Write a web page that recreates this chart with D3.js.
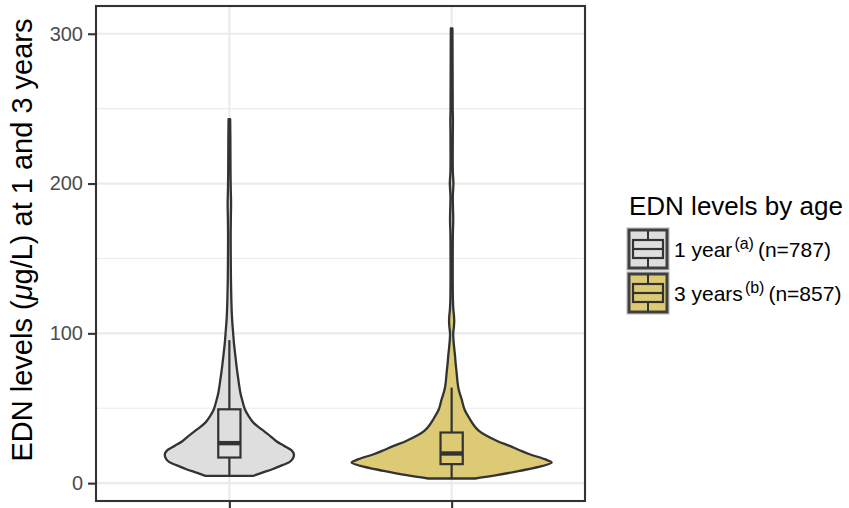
<!DOCTYPE html>
<html>
<head>
<meta charset="utf-8">
<script src="https://cdn.jsdelivr.net/npm/d3@7"></script>
<style>
  body { margin: 0; background: #ffffff; }
  text { font-family: "Liberation Sans", Arial, Helvetica, sans-serif; }
</style>
</head>
<body>
<svg id="chart" width="849" height="508"></svg>
<script>
// Groups (age at measurement)
const ages = ["1 year", "3 years"];
const ageSup = ["(a)", "(b)"];
const ageN = ["(n=787)", "(n=857)"];
const fills = ["#DEDEDE", "#DCCB74"];

// Violin outline: EDN value and relative density (1 = widest violin)
const violinValues1 = [4.9, 7, 9.3, 12, 14, 16.5, 19.3, 22, 25, 28, 32.7, 36, 40.4, 45, 49.3, 55, 60.4, 70, 78, 86, 94, 100, 111, 122, 135, 150, 165, 178, 187, 196, 205, 215, 230, 243];
const violinDensity1 = [0.24, 0.33, 0.43, 0.53, 0.60, 0.635, 0.645, 0.62, 0.545, 0.47, 0.385, 0.32, 0.24, 0.19, 0.155, 0.13, 0.11, 0.088, 0.072, 0.058, 0.045, 0.038, 0.026, 0.02, 0.016, 0.014, 0.013, 0.015, 0.017, 0.014, 0.012, 0.011, 0.01, 0.008];

const violinValues2 = [3.1, 5.3, 8.2, 11.5, 13.8, 16, 19.3, 22, 24.9, 28, 31.6, 35, 39.3, 43, 49, 56, 62.7, 68, 73.8, 80, 85, 90, 96, 100, 104, 108, 112, 116, 122, 135, 150, 165, 176, 185, 192, 200, 208, 220, 235, 242, 250, 270, 290, 303.5];
const violinDensity2 = [0.234, 0.45, 0.68, 0.91, 1.0, 0.93, 0.78, 0.68, 0.58, 0.46, 0.35, 0.27, 0.215, 0.18, 0.13, 0.10, 0.07, 0.058, 0.05, 0.04, 0.034, 0.026, 0.018, 0.016, 0.022, 0.026, 0.023, 0.017, 0.013, 0.011, 0.011, 0.012, 0.016, 0.013, 0.012, 0.018, 0.012, 0.011, 0.012, 0.013, 0.011, 0.01, 0.009, 0.008];

// Box plot statistics
const boxLowerWhisker = [4.9, 3.1];
const boxQ1 = [17.1, 12.7];
const boxMedian = [26.7, 19.8];
const boxQ3 = [49.3, 33.8];
const boxUpperWhisker = [95.5, 63.8];

// Axis ticks
const yMajorTicks = [0, 100, 200, 300];
const yMinorTicks = [50, 150, 250];

const violins = [
  { values: violinValues1, density: violinDensity1 },
  { values: violinValues2, density: violinDensity2 }
];

const svg = d3.select("#chart");
const panel = { left: 96, right: 585, top: 6, bottom: 501 };

const dataMin = d3.min(violins, v => d3.min(v.values));
const dataMax = d3.max(violins, v => d3.max(v.values));
const pad = (dataMax - dataMin) * 0.05;

const y = d3.scaleLinear()
  .domain([dataMin - pad, dataMax + pad])
  .range([panel.bottom, panel.top]);

const x = d3.scalePoint()
  .domain(ages)
  .range([panel.left, panel.right])
  .padding(0.6);

const step = x.step();
const halfMax = 0.45 * step;   // widest violin spans 0.9 of a slot
const boxHalf = 0.05 * step;   // box width 0.1 of a slot

const ink = "#333333";

// panel background + grid
svg.append("rect")
  .attr("x", panel.left).attr("y", panel.top)
  .attr("width", panel.right - panel.left).attr("height", panel.bottom - panel.top)
  .attr("fill", "#ffffff");

const grid = svg.append("g");
grid.selectAll("line.minor").data(yMinorTicks).join("line")
  .attr("x1", panel.left).attr("x2", panel.right)
  .attr("y1", d => y(d)).attr("y2", d => y(d))
  .attr("stroke", "#EBEBEB").attr("stroke-width", 1.1);
grid.selectAll("line.major").data(yMajorTicks).join("line")
  .attr("x1", panel.left).attr("x2", panel.right)
  .attr("y1", d => y(d)).attr("y2", d => y(d))
  .attr("stroke", "#EBEBEB").attr("stroke-width", 2.2);
grid.selectAll("line.vmajor").data(ages).join("line")
  .attr("x1", d => x(d)).attr("x2", d => x(d))
  .attr("y1", panel.top).attr("y2", panel.bottom)
  .attr("stroke", "#EBEBEB").attr("stroke-width", 2.2);

// violins
const area = d3.area()
  .curve(d3.curveCatmullRom.alpha(0.5));

violins.forEach((v, i) => {
  const cx = x(ages[i]);
  const pts = v.values.map((val, j) => ({ val, w: v.density[j] }));
  area
    .y(d => y(d.val))
    .x0(d => cx - d.w * halfMax)
    .x1(d => cx + d.w * halfMax);
  svg.append("path")
    .datum(pts)
    .attr("d", area)
    .attr("fill", fills[i])
    .attr("stroke", ink)
    .attr("stroke-width", 2.3)
    .attr("stroke-linejoin", "round");
});

// box plots
ages.forEach((a, i) => {
  const cx = x(a);
  const g = svg.append("g");
  g.append("line")
    .attr("x1", cx).attr("x2", cx)
    .attr("y1", y(boxQ3[i])).attr("y2", y(boxUpperWhisker[i]))
    .attr("stroke", ink).attr("stroke-width", 2.2);
  g.append("line")
    .attr("x1", cx).attr("x2", cx)
    .attr("y1", y(boxQ1[i])).attr("y2", y(boxLowerWhisker[i]))
    .attr("stroke", ink).attr("stroke-width", 2.2);
  g.append("rect")
    .attr("x", cx - boxHalf).attr("width", 2 * boxHalf)
    .attr("y", y(boxQ3[i])).attr("height", y(boxQ1[i]) - y(boxQ3[i]))
    .attr("fill", fills[i]).attr("stroke", ink).attr("stroke-width", 2.2);
  g.append("line")
    .attr("x1", cx - boxHalf).attr("x2", cx + boxHalf)
    .attr("y1", y(boxMedian[i])).attr("y2", y(boxMedian[i]))
    .attr("stroke", ink).attr("stroke-width", 4.4);
});

// panel border
svg.append("rect")
  .attr("x", panel.left).attr("y", panel.top)
  .attr("width", panel.right - panel.left).attr("height", panel.bottom - panel.top)
  .attr("fill", "none").attr("stroke", ink).attr("stroke-width", 2.1);

// axes
const yAxis = svg.append("g")
  .attr("transform", `translate(${panel.left},0)`)
  .call(d3.axisLeft(y).tickValues(yMajorTicks).tickSize(8).tickPadding(5));
yAxis.select(".domain").remove();
yAxis.selectAll(".tick line").attr("stroke", ink).attr("stroke-width", 2.1);
yAxis.selectAll(".tick text")
  .attr("fill", "#4D4D4D").attr("font-size", 20)
  .attr("font-family", "Liberation Sans, Arial, sans-serif");

const xAxis = svg.append("g")
  .attr("transform", `translate(0,${panel.bottom})`)
  .call(d3.axisBottom(x).tickSize(8).tickFormat(""));
xAxis.select(".domain").remove();
xAxis.selectAll(".tick line").attr("stroke", ink).attr("stroke-width", 2.1);

// axis title
svg.append("text")
  .attr("transform", "translate(32,240) rotate(-90)")
  .attr("text-anchor", "middle")
  .attr("font-size", 29)
  .attr("fill", "#000")
  .text("EDN levels (")
  .call(t => {
    t.append("tspan").attr("font-style", "italic").text("μ");
    t.append("tspan").text("g/L) at 1 and 3 years");
  });

// legend
const legend = svg.append("g");
legend.append("text")
  .attr("x", 629).attr("y", 215)
  .attr("font-size", 26).attr("fill", "#000")
  .text("EDN levels by age");

const keySize = 40;
const keyX = 628;
const keyY0 = 229;
const keyStep = 44;

ages.forEach((a, i) => {
  const ky = keyY0 + i * keyStep;
  const kg = legend.append("g");
  kg.append("rect")
    .attr("x", keyX - 1).attr("y", ky - 1)
    .attr("width", keySize + 2).attr("height", keySize + 2)
    .attr("fill", "none").attr("stroke", "#B3B3B3").attr("stroke-width", 1);
  kg.append("rect")
    .attr("x", keyX + 1).attr("y", ky + 1)
    .attr("width", keySize - 2).attr("height", keySize - 2)
    .attr("fill", fills[i]).attr("stroke", "#3F3F3F").attr("stroke-width", 3);
  const mx = keyX + keySize / 2;
  kg.append("line")
    .attr("x1", mx).attr("x2", mx).attr("y1", ky + 2).attr("y2", ky + keySize - 2)
    .attr("stroke", ink).attr("stroke-width", 2);
  kg.append("rect")
    .attr("x", keyX + 5).attr("y", ky + 11)
    .attr("width", keySize - 10).attr("height", 18)
    .attr("fill", fills[i]).attr("stroke", ink).attr("stroke-width", 2.2);
  kg.append("line")
    .attr("x1", keyX + 5).attr("x2", keyX + keySize - 5)
    .attr("y1", ky + 20).attr("y2", ky + 20)
    .attr("stroke", ink).attr("stroke-width", 2.2);

  const t = legend.append("text")
    .attr("x", 674).attr("y", ky + 28)
    .attr("font-size", 21).attr("fill", "#000");
  t.append("tspan").text(a);
  t.append("tspan").attr("dx", 2).attr("dy", -8).attr("font-size", 16).text(ageSup[i]);
  t.append("tspan").attr("dx", 4).attr("dy", 8).attr("font-size", 21).text(ageN[i]);
});
</script>
</body>
</html>
